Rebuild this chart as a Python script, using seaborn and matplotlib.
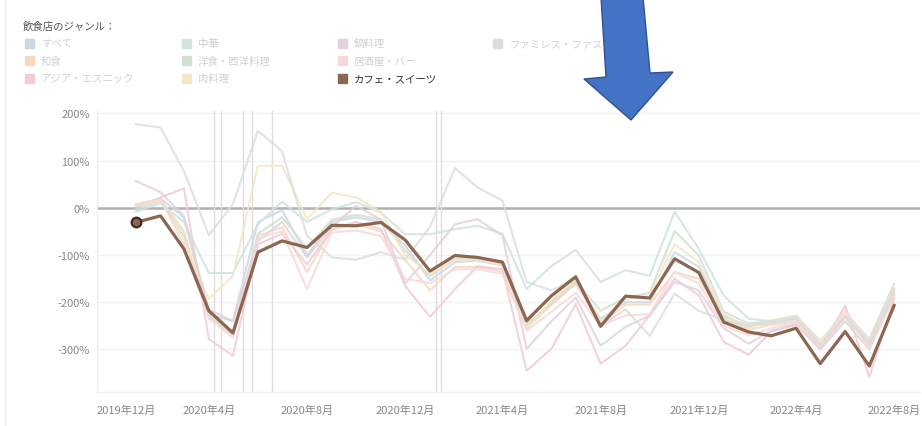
import pandas as pd
import numpy as np
import seaborn as sns
import matplotlib.pyplot as plt
import matplotlib.transforms as mtransforms
from matplotlib.patches import Polygon, Rectangle
from matplotlib.lines import Line2D

# monthly values (%), Jan 2020 - Aug 2022
months = pd.date_range("2020-01-01", periods=32, freq="MS")

cafe = [-31, -17, -87, -218, -265, -94, -70, -84, -37, -38, -31, -68, -134, -101, -105, -115,
        -239, -186, -146, -251, -187, -191, -108, -137, -242, -263, -271, -255, -330, -262, -335, -206]
famires = [177, 170, 78, -58, 8, 163, 120, -59, -105, -110, -94, -110, -40, 84, 43, 15,
           -157, -175, -150, -250, -215, -271, -182, -218, -238, -250, -240, -232, -290, -230, -285, -170]
chuka = [-9, 10, -30, -138, -138, -35, 13, -30, -3, 12, -10, -56, -56, -45, -38, -55,
         -172, -123, -89, -157, -132, -144, -8, -87, -186, -235, -240, -228, -282, -222, -278, -160]
niku = [5, 15, -70, -193, -144, 89, 89, -24, 32, 22, -9, -100, -140, -110, -110, -120,
        -255, -195, -150, -240, -195, -185, -77, -115, -225, -255, -238, -230, -285, -225, -283, -170]
subete = [0, 20, -20, -225, -240, -30, -5, -101, -30, -20, -30, -80, -154, -115, -112, -122,
          -245, -205, -160, -235, -200, -200, -94, -125, -230, -250, -245, -235, -290, -230, -290, -175]
yoshoku = [-5, 15, -60, -230, -270, -55, -20, -85, -25, -15, -25, -90, -145, -108, -108, -118,
           -250, -200, -155, -218, -190, -180, -49, -101, -220, -245, -240, -232, -285, -228, -285, -172]
washoku = [8, 18, -50, -228, -262, -60, -41, -136, -45, -35, -50, -110, -175, -125, -125, -135,
           -255, -205, -160, -245, -205, -205, -136, -150, -235, -258, -248, -240, -295, -232, -290, -180]
nabe = [57, 33, -17, -215, -240, -70, -30, -105, -40, 4, -25, -160, -100, -35, -24, -59,
        -299, -240, -190, -292, -252, -228, -157, -175, -255, -288, -260, -245, -300, -240, -300, -185]
izakaya = [5, 20, -80, -235, -275, -65, -50, -172, -52, -48, -60, -150, -160, -130, -130, -140,
           -260, -220, -180, -250, -228, -225, -136, -160, -250, -270, -255, -242, -295, -215, -300, -185]
asia = [3, 22, 41, -278, -313, -77, -55, -120, -45, -30, -45, -165, -231, -172, -124, -130,
        -345, -298, -204, -330, -292, -228, -150, -185, -284, -311, -262, -248, -298, -207, -358, -190]

# legend order: column by column
genres = ["すべて", "和食", "アジア・エスニック", "中華", "洋食・西洋料理", "肉料理",
          "鍋料理", "居酒屋・バー", "カフェ・スイーツ", "ファミレス・ファストフード"]
values = [subete, washoku, asia, chuka, yoshoku, niku, nabe, izakaya, cafe, famires]
colors = ["#c9d8e6", "#f6d9be", "#f0ccd3", "#cfe3df", "#d2e1cd", "#f3e7c5",
          "#e2d2de", "#f7d9dc", "#8d6651", "#dddddd"]

# state of emergency dates
events = pd.to_datetime(["2020-04-07", "2020-04-16", "2020-05-14", "2020-05-25",
                         "2020-06-19", "2021-01-08", "2021-01-14"])

tick_dates = pd.date_range("2019-12-01", "2022-08-01", freq="4MS")
tick_labels = [f"{d.year}年{d.month}月" for d in tick_dates]

df = pd.DataFrame({
    "month": np.tile(months, len(genres)),
    "genre": np.repeat(genres, len(months)),
    "value": np.concatenate(values),
})
palette = dict(zip(genres, colors))

sns.set_style("white")
plt.rcParams["font.family"] = ["Noto Sans CJK JP", "DejaVu Sans"]

W, H = 922, 427
fig = plt.figure(figsize=(W / 100, H / 100), dpi=100)
ax = fig.add_axes([97 / W, (H - 393) / H, (920 - 97) / W, (393 - 112) / H])

for y in [200, 100, -100, -200, -300]:
    ax.axhline(y, color="#f3f3f3", lw=1, zorder=0)
ax.axhline(0, color="#b0b0b0", lw=1.8, zorder=1)
for d in events:
    ax.axvline(d, color="#dedede", lw=1.0, zorder=1)

faded = df[df["genre"] != "カフェ・スイーツ"]
sns.lineplot(data=faded, x="month", y="value", hue="genre", palette=palette,
             lw=1.5, alpha=0.85, legend=False, ax=ax, zorder=2)
main = df[df["genre"] == "カフェ・スイーツ"]
sns.lineplot(data=main, x="month", y="value", color=palette["カフェ・スイーツ"],
             lw=2.3, legend=False, ax=ax, zorder=3)
ax.plot(months[0], cafe[0], "o", ms=7, mfc="#8d6651", mec="#3a2a20", mew=1.5, zorder=4)

ax.set_xlim(pd.Timestamp("2019-11-14"), pd.Timestamp("2022-09-02"))
ax.set_ylim(-390, 205)
ax.set_yticks([200, 100, 0, -100, -200, -300])
ax.set_yticklabels([f"{v}%" for v in [200, 100, 0, -100, -200, -300]])
ax.set_xticks(tick_dates)
ax.set_xticklabels(tick_labels)
ax.tick_params(axis="y", length=0, pad=5, labelsize=8, labelcolor="#888888")
ax.tick_params(axis="x", length=3, width=1, color="#666666", pad=6, labelsize=8,
               labelcolor="#888888", direction="out")
# first label sits inside the plot edge
first = ax.get_xticklabels()[0]
first.set_ha("left")
first.set_transform(first.get_transform() + mtransforms.ScaledTranslation(-14 / 100, 0, fig.dpi_scale_trans))
ax.set_xlabel("")
ax.set_ylabel("")
for side in ["top", "right"]:
    ax.spines[side].set_visible(False)
for side in ["left", "bottom"]:
    ax.spines[side].set_color("#eeeeee")
    ax.spines[side].set_linewidth(1)

# legend drawn by hand (3 rows, 4 columns)
def fx(x):
    return x / W

def fy(y):
    return 1 - y / H

fig.text(fx(23), fy(27), "飲食店のジャンル：", fontsize=7.5, color="#555555", va="center")
col_x = [25, 182, 338, 493]
row_y = [44, 61.5, 79]
for i, (g, c) in enumerate(zip(genres, colors)):
    cx, ry = col_x[i // 3], row_y[i % 3]
    fig.add_artist(Rectangle((fx(cx), fy(ry + 4.5)), fx(9), 9 / H, color=c,
                             transform=fig.transFigure))
    tc = "#333333" if g == "カフェ・スイーツ" else "#d0d0d0"
    fig.text(fx(cx + 16), fy(ry), g, fontsize=7.5, color=tc, va="center")

# faint left border
fig.add_artist(Line2D([fx(5), fx(5)], [0, 1], color="#eeeeee", lw=1,
                      transform=fig.transFigure))

# blue arrow annotation
arrow_px = [(601, -2), (643, -2), (650, 74), (673, 73), (631, 121), (584, 80), (606, 78)]
fig.add_artist(Polygon([(fx(x), fy(y)) for x, y in arrow_px], closed=True,
                       facecolor="#4472c4", edgecolor="#2f528f", lw=1,
                       transform=fig.transFigure, zorder=10))

fig.savefig("out.png", dpi=100)
